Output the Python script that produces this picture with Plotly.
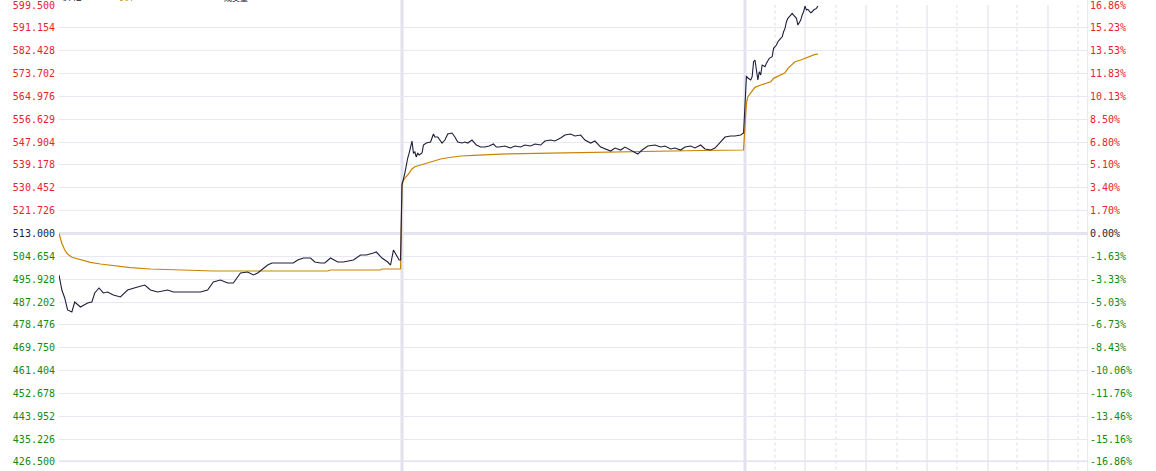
import numpy as np
import plotly.graph_objects as go

# ---------------- data ----------------
base_price = 513.0
y_min, y_max = 426.5, 599.5

left_tick_labels = ["426.500", "435.226", "443.952", "452.678", "461.404", "469.750", "478.476",
                    "487.202", "495.928", "504.654", "513.000", "521.726", "530.452", "539.178",
                    "547.904", "556.629", "564.976", "573.702", "582.428", "591.154", "599.500"]
right_tick_labels = ["-16.86%", "-15.16%", "-13.46%", "-11.76%", "-10.06%", "-8.43%", "-6.73%",
                     "-5.03%", "-3.33%", "-1.63%", "0.00%", "1.70%", "3.40%", "5.10%", "6.80%",
                     "8.50%", "10.13%", "11.83%", "13.53%", "15.23%", "16.86%"]

# minute index across three trading days (240 minutes per day)
price_minutes = [0, 2, 4, 6, 9, 11, 15, 20, 23, 25, 28, 31, 34, 38, 43, 48, 55, 60, 64, 69,
                 76, 80, 87, 92, 99, 104, 108, 113, 118, 122, 127, 132, 136, 139, 143, 146, 149, 155, 160, 164,
                 167, 171, 176, 179, 183, 186, 190, 195, 199, 206, 211, 215, 220, 222, 226, 230, 232, 234, 236, 238, 239,
                 240, 242, 243, 244, 245, 247, 248, 249, 250, 251, 252, 254, 255, 257, 260, 262, 263, 265, 268, 270,
                 272, 275, 277, 279, 282, 284, 286, 289, 292, 295, 298, 301, 304, 306, 308,
                 312, 316, 319, 323, 326, 330, 333, 337, 340, 344, 347, 351, 354, 358, 361, 365, 368, 372, 375, 379,
                 382, 386, 389, 393, 396, 400, 403, 405, 408, 412, 417, 421, 424, 428, 431, 435, 438, 442, 445, 449,
                 452, 456, 459, 463, 466, 470, 473, 477, 479,
                 480, 481, 482, 484, 485, 486, 487, 488, 489, 490, 491, 492, 494, 495, 497, 499, 500, 502, 503, 505,
                 506, 507, 508, 509, 510, 512, 513, 514, 516, 517, 519, 520, 521, 522, 523, 524, 526, 527, 528, 530, 531]
price_values = [497.29, 491.61, 488.58, 484.04, 483.28, 487.07, 485.17, 486.69, 487.07, 490.48,
                492.37, 490.48, 490.85, 489.72, 488.96, 491.61, 492.74, 493.50, 491.61, 490.85,
                491.61, 490.85, 490.85, 490.85, 490.85, 491.61, 494.64, 495.40, 494.26, 494.26,
                498.05, 498.43, 497.29, 498.05, 499.94, 501.07, 501.83, 501.83, 501.83, 501.83,
                502.97, 503.72, 503.72, 502.21, 501.83, 501.83, 503.72, 502.21, 502.21, 502.97,
                504.86, 504.86, 505.61, 505.99, 503.72, 502.21, 501.07, 506.75, 504.86, 502.97, 502.97,
                531.36, 535.90, 539.69, 541.58, 543.47, 548.00, 543.47, 543.85, 541.96, 543.47,
                542.72, 543.47, 546.50, 547.26, 547.64, 550.67, 549.53, 549.53, 547.26, 548.39,
                550.67, 551.04, 549.53, 547.64, 547.26, 547.64, 547.26, 548.39, 546.50, 545.74,
                545.74, 546.12, 546.88, 545.74, 545.74,
                546.12, 545.37, 546.12, 545.74, 546.50, 546.12, 546.88, 546.50, 548.02, 548.39,
                548.02, 549.15, 550.29, 550.67, 549.91, 550.29, 548.39, 547.26, 548.02, 545.74,
                544.99, 544.23, 545.37, 544.61, 545.74, 544.61, 543.85, 543.09, 544.61, 546.12,
                546.50, 545.74, 546.12, 544.99, 545.37, 544.61, 545.74, 546.12, 545.37, 546.50,
                544.99, 544.61, 545.37, 547.64, 549.53, 549.91, 549.91, 550.29, 551.04,
                561.64, 572.62, 571.87, 571.11, 572.36, 578.04, 578.68, 574.25, 571.11, 574.25,
                573.00, 576.79, 576.14, 577.43, 579.32, 579.93, 583.11, 584.36, 585.61, 586.89,
                587.50, 589.39, 590.68, 593.18, 594.47, 595.71, 596.36, 595.71, 594.47, 591.93,
                593.82, 595.71, 596.96, 599.12, 597.61, 597.87, 596.59, 596.96, 597.61, 598.25, 599.12]

avg_minutes = [0, 2, 4, 6, 9, 15, 22, 29, 38, 50, 64, 83, 108, 188, 190, 225, 226, 239,
               240, 242, 244, 247, 249, 253, 258, 262, 267, 272, 281, 290, 300, 309, 344, 379, 414, 449, 479,
               480, 481, 482, 485, 487, 491, 494, 498, 500, 503, 506, 508, 510, 513, 515, 519, 522, 526, 529, 531]
avg_values = [513.00, 509.30, 506.75, 505.24, 504.00, 503.00, 502.10, 501.45, 500.80, 500.05,
              499.56, 499.18, 498.80, 498.80, 499.18, 499.18, 499.56, 499.56,
              532.12, 534.01, 535.15, 537.42, 538.29, 538.93, 539.80, 540.56, 541.20, 541.69,
              542.34, 542.60, 542.83, 543.09, 543.47, 543.85, 544.23, 544.42, 544.61,
              552.94, 562.40, 564.79, 566.68, 568.34, 569.22, 569.86, 570.46, 571.75, 572.62,
              573.38, 573.87, 575.54, 577.17, 578.04, 578.68, 579.32, 580.19, 580.84, 580.95]

legend_text_price = "价格 599.12"
legend_text_avg = "均价 580.95"
legend_text_vol = "成交量"

day_breaks = [240, 480]
day3_solid_grid = [522, 564.7, 607.4, 650, 692]
day3_dotted_grid = [501, 543.7, 586.4, 628.3, 670.3, 713]

# ---------------- style ----------------
RED = "#e8232b"
GREEN = "#128a12"
DARK = "#22223a"
ORANGE = "#c98300"
GRID = "#e8e8f2"
THICK = "#e2e2ee"
FONT = "DejaVu Sans Mono"


def colored(labels, values, ref):
    out = []
    for lab, v in zip(labels, values):
        c = RED if v > ref + 1e-9 else (GREEN if v < ref - 1e-9 else DARK)
        out.append(f"<span style='color:{c}'>{lab}</span>")
    return out


left_vals = np.linspace(y_min, y_max, len(left_tick_labels))
pct_max = (y_max - base_price) / base_price * 100
pct_min = (y_min - base_price) / base_price * 100
right_vals = np.linspace(pct_min, pct_max, len(right_tick_labels))
pad = 0.02
pct_pad = pad / base_price * 100

fig = go.Figure()
fig.add_trace(go.Scatter(x=avg_minutes, y=avg_values, mode="lines",
                         line=dict(color=ORANGE, width=1.2), hoverinfo="skip", showlegend=False))
fig.add_trace(go.Scatter(x=price_minutes, y=price_values, mode="lines",
                         line=dict(color="#1e1e3c", width=1.1), hoverinfo="skip", showlegend=False))
fig.add_trace(go.Scatter(x=[0], y=[0], yaxis="y2", mode="markers",
                         marker=dict(opacity=0), hoverinfo="skip", showlegend=False))

shapes = []
for xv in day3_dotted_grid:
    shapes.append(dict(type="line", xref="x", yref="paper", x0=xv, x1=xv, y0=-0.03, y1=1,
                       line=dict(color="#dcdce8", width=1, dash="dot"), layer="below"))
for xv in day3_solid_grid:
    shapes.append(dict(type="line", xref="x", yref="paper", x0=xv, x1=xv, y0=-0.03, y1=1,
                       line=dict(color=GRID, width=1.5), layer="below"))
for xv in day_breaks:
    shapes.append(dict(type="line", xref="x", yref="paper", x0=xv, x1=xv, y0=-0.03, y1=1.02,
                       line=dict(color=THICK, width=3), layer="below"))
# left and right frame lines
shapes.append(dict(type="line", xref="x", yref="paper", x0=-1, x1=-1, y0=-0.03, y1=1.02,
                   line=dict(color=THICK, width=2), layer="below"))
shapes.append(dict(type="line", xref="x", yref="paper", x0=720, x1=720, y0=-0.03, y1=1.02,
                   line=dict(color=THICK, width=1.5), layer="below"))
# base price line and bottom line
shapes.append(dict(type="line", xref="paper", yref="y", x0=0, x1=1, y0=base_price, y1=base_price,
                   line=dict(color=THICK, width=3), layer="below"))
shapes.append(dict(type="line", xref="paper", yref="y", x0=0, x1=1, y0=y_min, y1=y_min,
                   line=dict(color=THICK, width=3), layer="below"))

legend_font = dict(family="Noto Sans CJK SC", size=10)
annotations = [
    dict(xref="paper", yref="paper", x=0.001, y=1, xanchor="left", yanchor="bottom", yshift=0,
         showarrow=False, text=legend_text_price, font=dict(legend_font, color=DARK)),
    dict(xref="paper", yref="paper", x=0.0515, y=1, xanchor="left", yanchor="bottom", yshift=0,
         showarrow=False, text=legend_text_avg, font=dict(legend_font, color=ORANGE)),
    dict(xref="paper", yref="paper", x=0.158, y=1, xanchor="left", yanchor="bottom", yshift=0,
         showarrow=False, text=legend_text_vol, font=dict(family="Noto Sans CJK SC", size=8, color=DARK)),
]

fig.update_layout(
    width=1156, height=471, autosize=False,
    margin=dict(l=59, r=68, t=5, b=9, autoexpand=False),
    paper_bgcolor="white", plot_bgcolor="white",
    font=dict(family=FONT, size=10, color=DARK),
    showlegend=False,
    shapes=shapes,
    annotations=annotations,
    xaxis=dict(range=[0, 720], showgrid=False, zeroline=False, showticklabels=False,
               ticks="", showline=False, fixedrange=True, automargin=False),
    yaxis=dict(range=[y_min - pad, y_max + pad], tickmode="array", tickvals=list(left_vals),
               ticktext=colored(left_tick_labels, left_vals, base_price),
               showgrid=True, gridcolor=GRID, gridwidth=1, zeroline=False, ticks="",
               showline=False, tickfont=dict(family=FONT, size=10), fixedrange=True,
               automargin=False, ticklabeloverflow="allow", ticklabelstandoff=3),
    yaxis2=dict(range=[pct_min - pct_pad, pct_max + pct_pad], overlaying="y", side="right",
                tickmode="array", tickvals=list(right_vals),
                ticktext=colored(right_tick_labels, right_vals, 0.0),
                showgrid=False, zeroline=False, ticks="", showline=False,
                tickfont=dict(family=FONT, size=10), fixedrange=True, automargin=False,
                ticklabeloverflow="allow", ticklabelstandoff=1),
)

fig.write_html("out.html", config={"displayModeBar": False},
               post_script="document.body.style.margin='0';document.body.style.padding='0';")
